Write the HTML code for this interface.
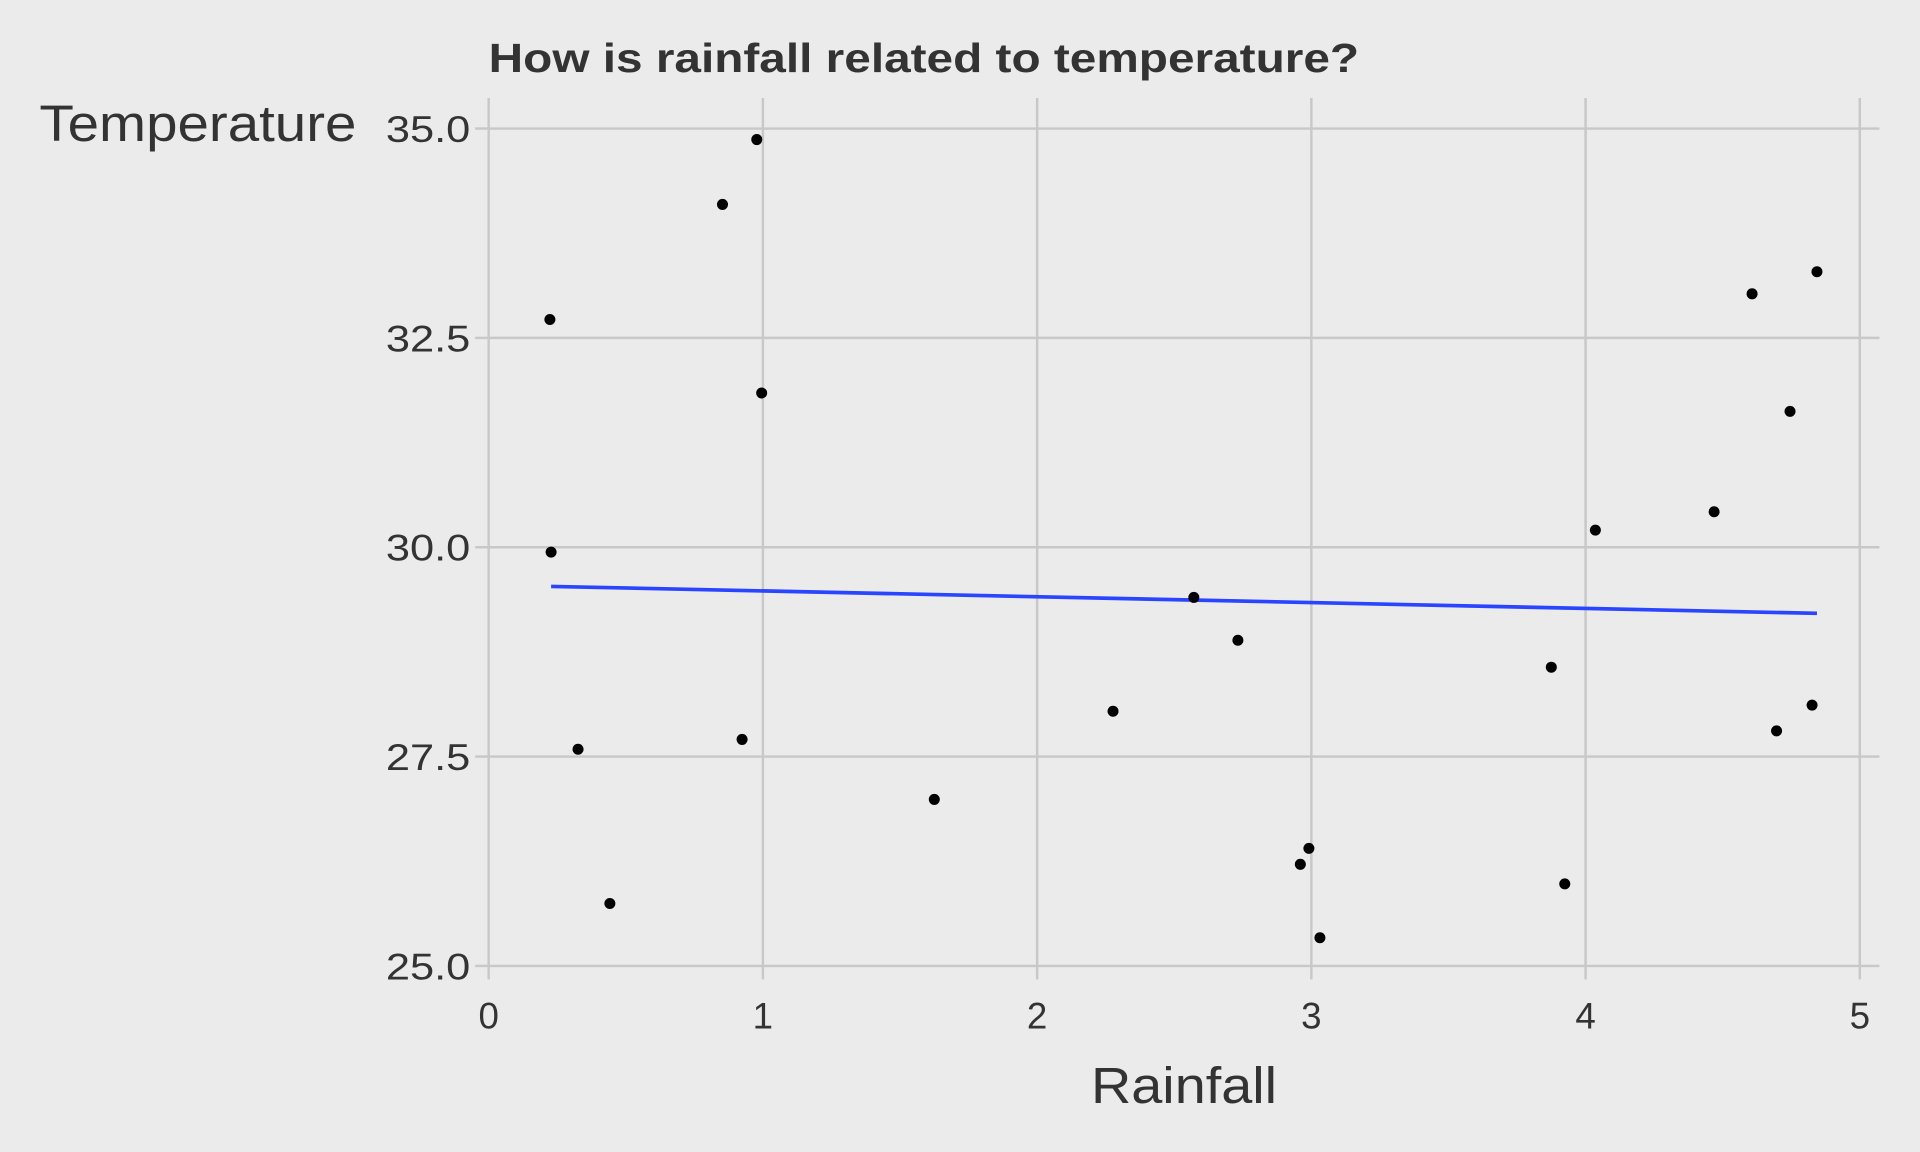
<!DOCTYPE html>
<html><head><meta charset="utf-8"><style>
html,body{margin:0;padding:0;background:#ebebeb;}
svg{display:block;}
text{font-family:"Liberation Sans",sans-serif;fill:#333;}
</style></head><body>
<svg width="1920" height="1152" viewBox="0 0 1568 941" xmlns="http://www.w3.org/2000/svg">
<rect width="1568" height="941" fill="#ebebeb"/>
<g stroke="#c8c8c8" stroke-width="2">
<line x1="399" y1="105" x2="1535" y2="105"/>
<line x1="399" y1="276" x2="1535" y2="276"/>
<line x1="399" y1="447" x2="1535" y2="447"/>
<line x1="399" y1="618" x2="1535" y2="618"/>
<line x1="399" y1="789" x2="1535" y2="789"/>
<line x1="399" y1="80" x2="399" y2="800"/>
<line x1="623" y1="80" x2="623" y2="800"/>
<line x1="847" y1="80" x2="847" y2="800"/>
<line x1="1071" y1="80" x2="1071" y2="800"/>
<line x1="1295" y1="80" x2="1295" y2="800"/>
<line x1="1519" y1="80" x2="1519" y2="800"/>
<line x1="388" y1="105" x2="399" y2="105"/>
<line x1="388" y1="276" x2="399" y2="276"/>
<line x1="388" y1="447" x2="399" y2="447"/>
<line x1="388" y1="618" x2="399" y2="618"/>
<line x1="388" y1="789" x2="399" y2="789"/>
</g>
<text x="399" y="59" font-size="33" font-weight="bold" textLength="711" lengthAdjust="spacingAndGlyphs">How is rainfall related to temperature?</text>
<text x="32" y="115" font-size="42" textLength="259" lengthAdjust="spacingAndGlyphs">Temperature</text>
<text x="891" y="901" font-size="42" textLength="152" lengthAdjust="spacingAndGlyphs">Rainfall</text>
<g font-size="30">
<text x="315" y="116" textLength="69" lengthAdjust="spacingAndGlyphs">35.0</text>
<text x="315" y="287" textLength="69" lengthAdjust="spacingAndGlyphs">32.5</text>
<text x="315" y="458" textLength="69" lengthAdjust="spacingAndGlyphs">30.0</text>
<text x="315" y="629" textLength="69" lengthAdjust="spacingAndGlyphs">27.5</text>
<text x="315" y="800" textLength="69" lengthAdjust="spacingAndGlyphs">25.0</text>
</g>
<g font-size="30" text-anchor="middle">
<text x="399" y="840">0</text>
<text x="623" y="840">1</text>
<text x="847" y="840">2</text>
<text x="1071" y="840">3</text>
<text x="1295" y="840">4</text>
<text x="1519" y="840">5</text>
</g>
<line x1="450" y1="479" x2="1484" y2="501" stroke="#2a45ff" stroke-width="3"/>
<g fill="#000">
<circle cx="449" cy="261" r="4.5"/><circle cx="450" cy="451" r="4.5"/><circle cx="472" cy="612" r="4.5"/>
<circle cx="498" cy="738" r="4.5"/><circle cx="590" cy="167" r="4.5"/><circle cx="618" cy="114" r="4.5"/>
<circle cx="606" cy="604" r="4.5"/><circle cx="622" cy="321" r="4.5"/><circle cx="763" cy="653" r="4.5"/>
<circle cx="909" cy="581" r="4.5"/><circle cx="975" cy="488" r="4.5"/><circle cx="1011" cy="523" r="4.5"/>
<circle cx="1062" cy="706" r="4.5"/><circle cx="1069" cy="693" r="4.5"/><circle cx="1078" cy="766" r="4.5"/>
<circle cx="1267" cy="545" r="4.5"/><circle cx="1278" cy="722" r="4.5"/><circle cx="1303" cy="433" r="4.5"/>
<circle cx="1400" cy="418" r="4.5"/><circle cx="1431" cy="240" r="4.5"/><circle cx="1451" cy="597" r="4.5"/>
<circle cx="1462" cy="336" r="4.5"/><circle cx="1480" cy="576" r="4.5"/><circle cx="1484" cy="222" r="4.5"/>
</g>
</svg>
</body></html>
